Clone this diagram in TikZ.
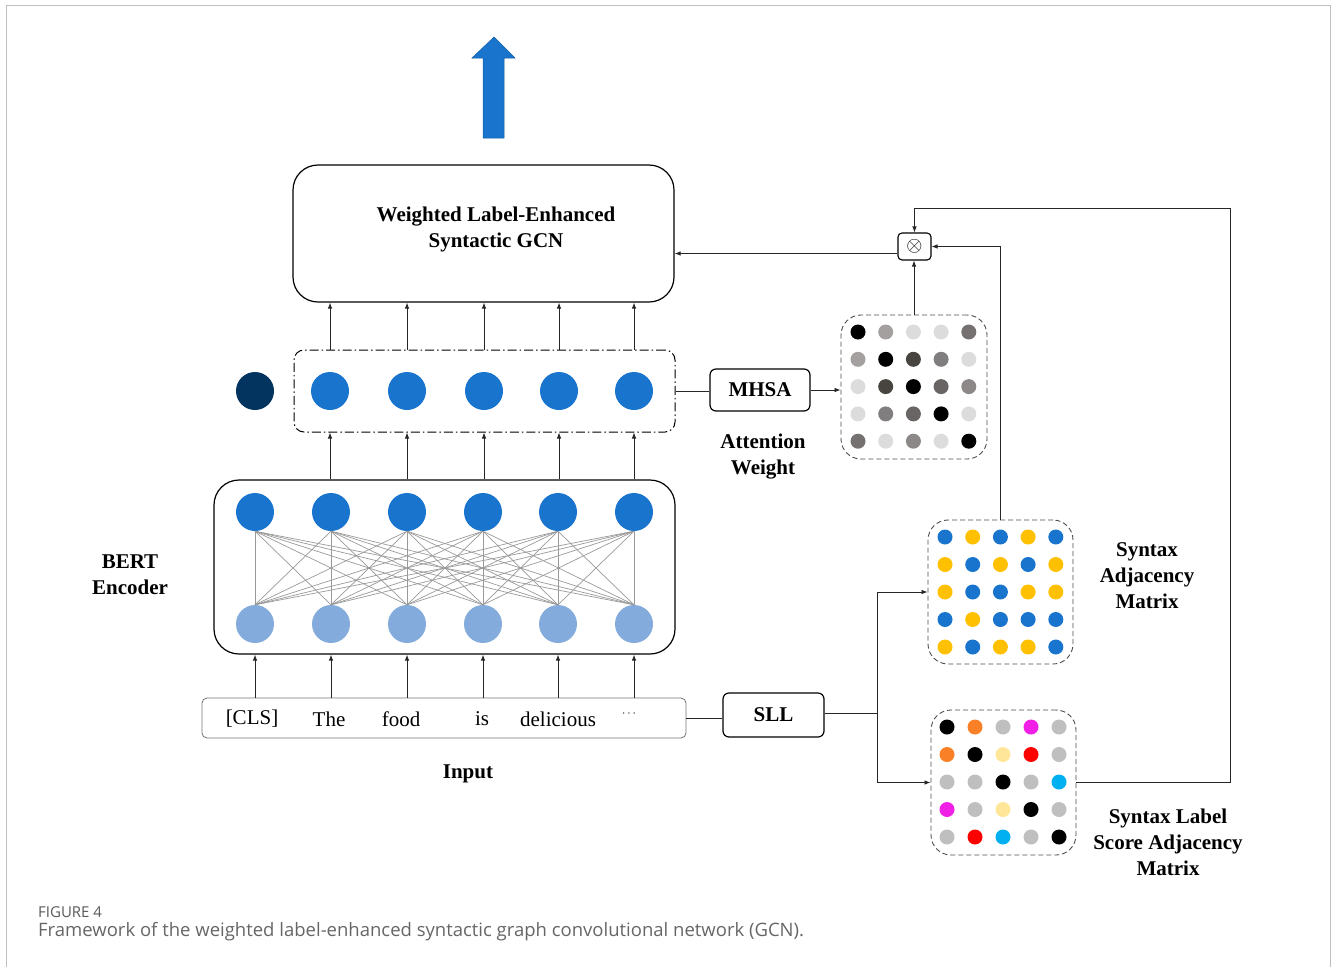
\documentclass[tikz,border=0pt]{standalone}
\usepackage{fontspec}
\setmainfont{Liberation Serif}
\newfontfamily\capfont{Open Sans}
\usetikzlibrary{arrows.meta,calc}

\definecolor{nodeblue}{RGB}{24,116,205}
\definecolor{lightblue}{RGB}{131,171,220}
\definecolor{navy}{RGB}{3,51,95}
\definecolor{amber}{RGB}{255,192,0}
\definecolor{orng}{RGB}{250,128,40}
\definecolor{magn}{RGB}{240,32,230}
\definecolor{cyn}{RGB}{0,176,240}
\definecolor{paley}{RGB}{255,230,153}
\definecolor{lgray}{RGB}{191,191,191}
\definecolor{gA}{RGB}{164,160,160}
\definecolor{gB}{RGB}{118,113,113}
\definecolor{gC}{RGB}{72,68,64}
\definecolor{gD}{RGB}{220,220,220}
\definecolor{gE}{RGB}{128,126,126}
\definecolor{gF}{RGB}{106,101,101}
\definecolor{gG}{RGB}{140,136,136}

\begin{document}
\begin{tikzpicture}[x=1pt,y=-1pt,
    every node/.style={inner sep=0pt},
    lbl/.style={font=\fontsize{21}{26}\selectfont\bfseries,align=center},
    word/.style={font=\fontsize{21}{26}\selectfont},
    bigbox/.style={draw,line width=1.2pt,rounded corners=25pt},
    smallbox/.style={draw,line width=1.2pt,rounded corners=6pt},
    dashbox/.style={draw=black!70,line width=0.9pt,dash pattern=on 5pt off 3pt,rounded corners=20pt},
    midbox/.style={draw,line width=1pt,dash pattern=on 9pt off 3pt on 1.5pt off 3pt,rounded corners=10pt},
    neuron/.style={circle,minimum size=38pt},
    dot/.style={circle,minimum size=15pt},
    conn/.style={draw=black!85,line width=0.8pt},
    arr/.style={conn,-{Latex[length=6pt,width=4.5pt]}},
    mesh/.style={draw=black!40,line width=0.7pt}]
  \useasboundingbox (0,0) rectangle (1333,967);
  % frame
  \draw[black!25,line width=1pt] (6,967) -- (6,5) -- (1330,5) -- (1330,967);

  % output arrow
  \draw[fill=nodeblue,draw=nodeblue!80!black,line width=0.5pt]
    (483,138) -- (483,58) -- (472,58) -- (494,37) -- (515,58) -- (504,58) -- (504,138) -- cycle;

  % GCN
  \node[bigbox,minimum width=381pt,minimum height=137pt] (gcn) at (483.5,233.5) {};
  \node[lbl] (gcntext) at (496,229) {Weighted Label-Enhanced\\Syntactic GCN};

  % pooled row
  \node[midbox,minimum width=381pt,minimum height=82pt] (mid) at (484.5,391) {};
  \node[neuron,fill=navy] (cls) at (255,391) {};
  \foreach \x [count=\i] in {330,407,484,559,634}
    \node[neuron,fill=nodeblue] (g\i) at (\x,391) {};
  \foreach \i in {1,...,5}
    \draw[arr] (g\i |- mid.north) -- (g\i |- gcn.south);

  % BERT
  \node[bigbox,minimum width=461pt,minimum height=174pt] (bert) at (444.5,567) {};
  \node[lbl] (berttext) at (130,575) {BERT\\Encoder};
  \foreach \x [count=\i] in {255,331,407,483,558,634} {
    \node[neuron,fill=nodeblue] (t\i) at (\x,512) {};
    \node[neuron,fill=lightblue] (b\i) at (\x,624) {};
  }
  \foreach \i in {1,...,6}
    \foreach \j in {1,...,6}
      \draw[mesh] (t\i.south) -- (b\j.north);
  \foreach \i in {1,...,5}
    \draw[arr] (g\i |- bert.north) -- (g\i |- mid.south);

  % input
  \node[draw=black!55,line width=0.8pt,rounded corners=5pt,minimum width=484pt,minimum height=40pt] (inp) at (444,718) {};
  \node[word] (w1) at (252,719) {[CLS]};
  \node[word] (w2) at (329,719) {The};
  \node[word] (w3) at (401,719) {food};
  \node[word] (w4) at (482,719) {is};
  \node[word] (w5) at (558,719) {delicious};
  \node[font=\fontsize{12}{12}\selectfont] (w6) at (629,714) {$\cdots$};
  \node[lbl] (inptext) at (468,774) {Input};
  \foreach \i in {1,...,6}
    \draw[arr] (b\i |- inp.north) -- (b\i |- bert.south);

  % MHSA and attention weights
  \node[smallbox,lbl,minimum width=100pt,minimum height=42pt] (mhsa) at (760,390) {MHSA};
  \node[lbl] (atttext) at (763,457) {Attention\\Weight};
  \node[dashbox,minimum width=146pt,minimum height=144pt] (att) at (914,387) {};
  \foreach \row [count=\i] in {{black,gA,gD,gD,gB},{gA,black,gC,gE,gD},{gD,gC,black,gF,gG},{gD,gE,gF,black,gD},{gB,gD,gG,gD,black}}
    \foreach \c [count=\j] in \row
      \node[dot,fill=\c] (a\i\j) at ({858+27.7*(\j-1)},{332+27.3*(\i-1)}) {};
  \draw[conn] (mid.east) -- (mid.east -| mhsa.west);
  \draw[arr] (mhsa.east) -- (mhsa.east -| att.west);

  % product
  \node[draw,line width=1.1pt,rounded corners=4pt,minimum width=33pt,minimum height=27pt,font=\fontsize{22}{22}\selectfont] (mul) at (914.5,246.5) {$\otimes$};
  \draw[arr] (att.north) -- (att.north |- mul.south);
  \coordinate (mulout) at ([yshift=-7pt]mul.west);
  \draw[arr] (mulout) -- (mulout -| gcn.east);

  % SLL
  \node[smallbox,lbl,minimum width=101pt,minimum height=44pt] (sll) at (773.5,715) {SLL};
  \draw[conn] (inp.east) -- (inp.east -| sll.west);
  \coordinate (split) at (877,713);
  \draw[conn] (sll.east |- split) -- (split);

  % syntax adjacency matrix
  \node[dashbox,minimum width=145pt,minimum height=144pt] (syn) at (1000.5,592) {};
  \node[lbl] (syntext) at (1147,576) {Syntax\\Adjacency\\Matrix};
  \foreach \row [count=\i] in {{nodeblue,amber,nodeblue,amber,nodeblue},{amber,nodeblue,amber,nodeblue,amber},{amber,nodeblue,nodeblue,amber,amber},{nodeblue,amber,nodeblue,nodeblue,nodeblue},{amber,nodeblue,amber,amber,nodeblue}}
    \foreach \c [count=\j] in \row
      \node[dot,fill=\c] (s\i\j) at ({945+27.7*(\j-1)},{537+27.5*(\i-1)}) {};

  % syntax label score matrix
  \node[dashbox,minimum width=145pt,minimum height=145pt] (lab) at (1003.5,782.5) {};
  \node[lbl] (labtext) at (1168,842) {Syntax Label\\Score Adjacency\\Matrix};
  \foreach \row [count=\i] in {{black,orng,lgray,magn,lgray},{orng,black,paley,red,lgray},{lgray,lgray,black,lgray,cyn},{magn,lgray,paley,black,lgray},{lgray,red,cyn,lgray,black}}
    \foreach \c [count=\j] in \row
      \node[dot,fill=\c] (l\i\j) at ({947+28*(\j-1)},{727+27.5*(\i-1)}) {};

  \draw[arr] (split) |- (syn.west);
  \draw[arr] (split) |- (lab.west);
  \draw[arr] (syn.north) |- (mul.east);
  \coordinate (loop) at (1230,208);
  \draw[arr] (lab.east) -| (loop) -| (mul.north);

  % caption
  \node[anchor=west,font=\capfont\fontsize{15}{16}\selectfont,text=black!65] (fig) at (38,912) {FIGURE 4};
  \node[anchor=west,font=\capfont\fontsize{18.5}{20}\selectfont,text=black!60] (cap) at (38,932) {Framework of the weighted label-enhanced syntactic graph convolutional network (GCN).};
\end{tikzpicture}
\end{document}
